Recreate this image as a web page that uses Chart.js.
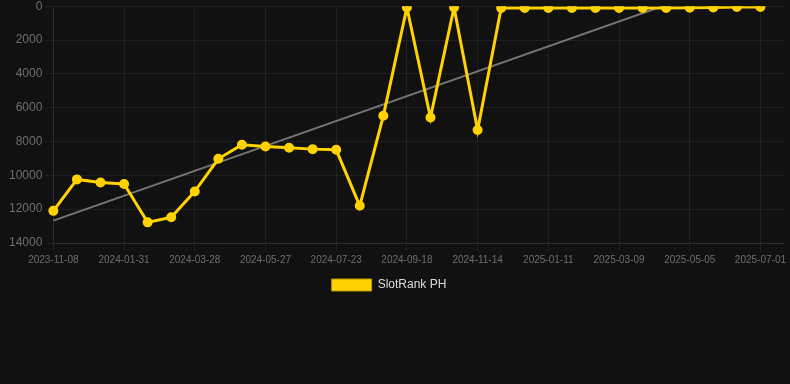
<!DOCTYPE html>
<html>
<head>
<meta charset="utf-8">
<script src="https://cdn.jsdelivr.net/npm/chart.js@4"></script>
<style>
  html, body { margin: 0; padding: 0; background: #111111; overflow: hidden; }
  #wrap { width: 790px; height: 305px; position: relative; margin-top: -4px; }
</style>
</head>
<body>
<div id="wrap"><canvas id="c"></canvas></div>
<script>
const categories = [
  '2023-11-08','2023-12-06','2024-01-03','2024-01-31','2024-02-19','2024-03-09',
  '2024-03-28','2024-04-17','2024-05-07','2024-05-27','2024-06-15','2024-07-04',
  '2024-07-23','2024-08-11','2024-08-30','2024-09-18','2024-10-07','2024-10-26',
  '2024-11-14','2024-12-03','2024-12-22','2025-01-11','2025-01-30','2025-02-18',
  '2025-03-09','2025-03-28','2025-04-16','2025-05-05','2025-05-24','2025-06-12',
  '2025-07-01','2025-07-20'
];
const rankValues = [
  12100, 10240, 10420, 10510, 12780, 12480, 10950, 9020, 8190, 8290, 8370, 8450,
  8490, 11800, 6480, 80, 6580, 80, 7320, 100, 100, 100, 100, 100,
  100, 100, 100, 90, 80, 40, 40, null
];
const trendStart = 12680;
const trendEnd = -2040;
const trendValues = categories.map((_, i) => i === 0 ? trendStart : (i === 30 ? trendEnd : null));
const yTicks = [0, 2000, 4000, 6000, 8000, 10000, 12000, 14000];

const FONT = "'Liberation Sans', Arial, Helvetica, sans-serif";
const gridFaint = 'rgba(255,255,255,0.06)';

const shiftLegend = {
  id: 'shiftLegend',
  afterLayout(chart) {
    if (chart.legend) { chart.legend.left -= 9; chart.legend.right -= 9; }
  }
};

new Chart(document.getElementById('c'), {
  type: 'line',
  plugins: [shiftLegend],
  data: {
    labels: categories,
    datasets: [
      {
        label: 'SlotRank PH',
        data: rankValues,
        borderColor: '#FFD200',
        backgroundColor: '#FFD200',
        borderWidth: 3,
        pointRadius: 4,
        pointBorderWidth: 2,
        pointBackgroundColor: '#FFD200',
        pointBorderColor: '#FFD200',
        tension: 0,
        order: 1
      },
      {
        label: 'trend',
        data: trendValues,
        borderColor: 'rgba(150,150,150,0.75)',
        backgroundColor: 'rgba(150,150,150,0.75)',
        borderWidth: 2,
        pointRadius: 0,
        spanGaps: true,
        tension: 0,
        order: 2
      }
    ]
  },
  options: {
    responsive: true,
    maintainAspectRatio: false,
    animation: false,
    layout: { padding: { top: 0, left: 6, right: 0, bottom: 0 } },
    plugins: {
      legend: {
        position: 'bottom',
        labels: {
          color: '#dddddd',
          font: { family: FONT, size: 12 },
          boxWidth: 40,
          boxHeight: 12,
          filter: item => item.datasetIndex === 0,
          generateLabels: chart => {
            const items = Chart.defaults.plugins.legend.labels.generateLabels(chart);
            items.forEach(it => { it.lineWidth = 1; it.strokeStyle = '#b89800'; });
            return items;
          }
        }
      },
      tooltip: { enabled: false }
    },
    scales: {
      x: {
        offset: false,
        grid: {
          color: ctx => (ctx.index % 3 === 0 ? gridFaint : 'transparent'),
          tickColor: ctx => (ctx.index % 3 === 0 ? gridFaint : 'transparent')
        },
        border: { color: gridFaint },
        ticks: {
          autoSkip: false,
          maxRotation: 0,
          minRotation: 0,
          color: '#6e6e6e',
          font: { family: FONT, size: 10 },
          callback: function (v, i) { return i % 3 === 0 && i <= 30 ? categories[i] : ''; }
        }
      },
      y: {
        reverse: true,
        min: 0,
        max: 14000,
        afterBuildTicks: axis => { axis.ticks = yTicks.map(v => ({ value: v })); },
        grid: { color: gridFaint, tickColor: gridFaint },
        border: { color: gridFaint },
        ticks: {
          color: '#6e6e6e',
          font: { family: FONT, size: 12 },
          callback: v => String(v)
        }
      }
    }
  }
});
</script>
</body>
</html>
